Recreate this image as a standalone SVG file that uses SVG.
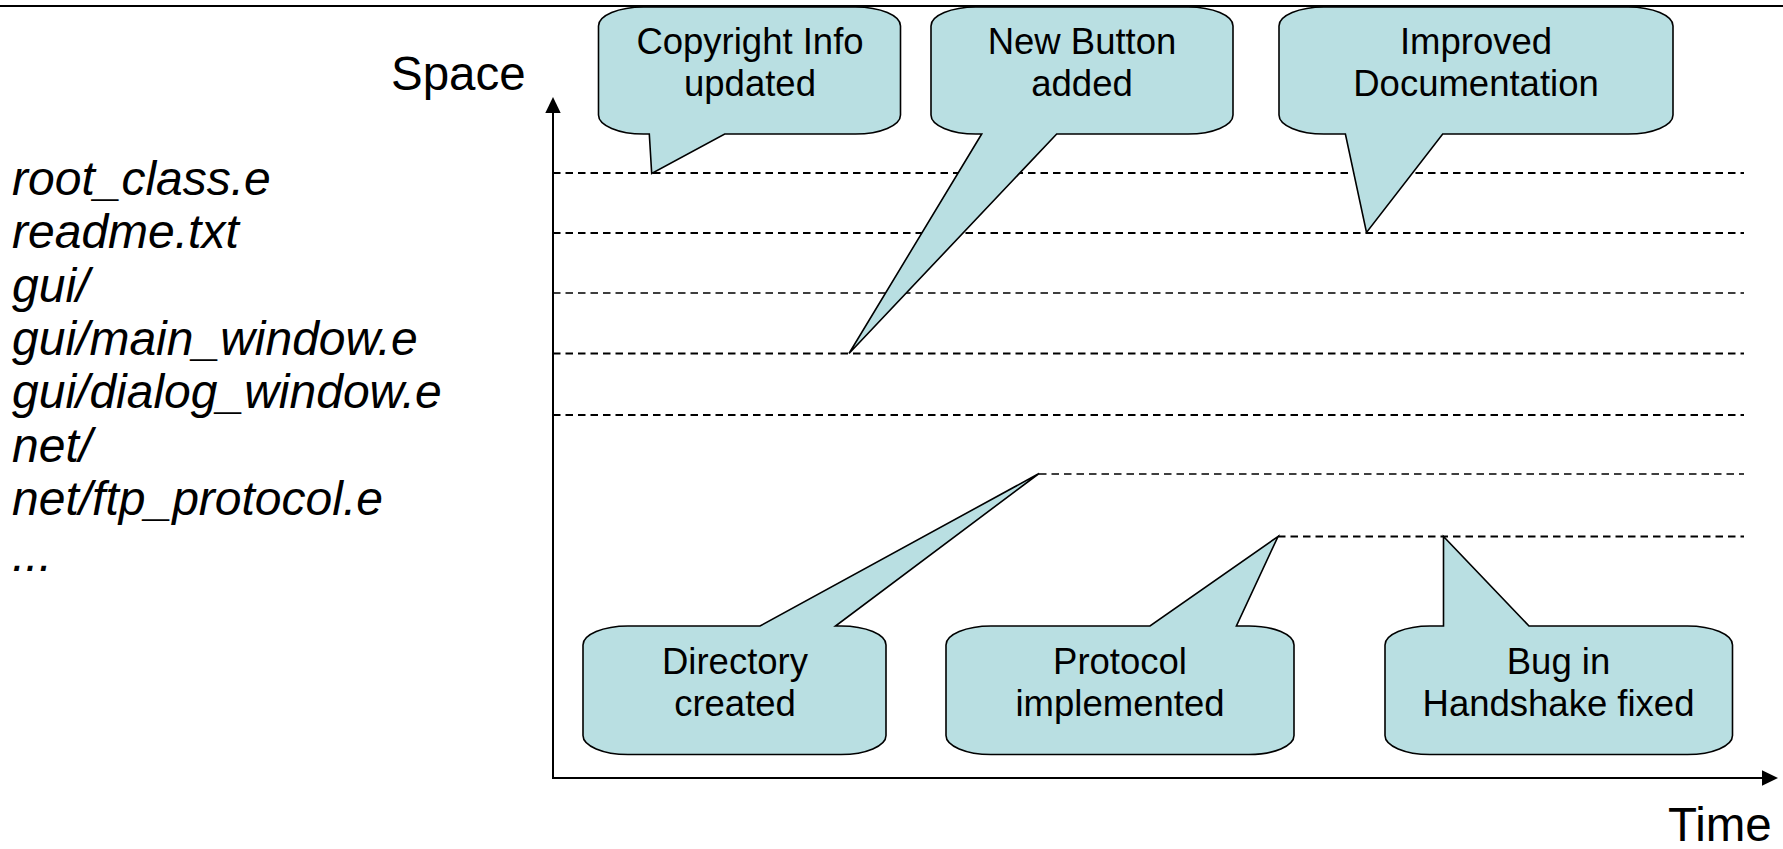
<svg xmlns="http://www.w3.org/2000/svg" width="1783" height="849" viewBox="0 0 1783 849">
  <defs>
    <marker id="arrow" viewBox="0 0 16 16" refX="0" refY="8" markerWidth="16" markerHeight="16" markerUnits="userSpaceOnUse" orient="auto">
      <path d="M0,0.3 L16,8 L0,15.7 Z" fill="#000"/>
    </marker>
  </defs>
  <style>
    .axis { stroke: #000; stroke-width: 2; fill: none; }
    .rule { stroke: #000; stroke-width: 2; }
    .lane { stroke: #000; stroke-width: 2.2; stroke-dasharray: 7.5 5; fill: none; }
    .lane.thin { stroke-width: 1.4; }
    .bubble { fill: #B9DFE2; stroke: #000; stroke-width: 1.6; stroke-linejoin: miter; }
    .label { font-family: "Liberation Sans", Arial, sans-serif; font-size: 36.5px; fill: #000; text-anchor: middle; }
    .axis-title { font-family: "Liberation Sans", Arial, sans-serif; font-size: 47.5px; fill: #000; }
    .file { font-family: "Liberation Sans", Arial, sans-serif; font-size: 48px; font-style: italic; fill: #000; }
  </style>

  <rect width="1783" height="849" fill="#fff"/>

  <!-- header rule -->
  <line class="rule" x1="0" y1="6" x2="1783" y2="6"/>

  <!-- file list (space axis) -->
  <g id="file-list">
    <text class="file" x="12" y="195">root_class.e</text>
    <text class="file" x="12" y="248.3">readme.txt</text>
    <text class="file" x="12" y="301.7">gui/</text>
    <text class="file" x="12" y="355">gui/main_window.e</text>
    <text class="file" x="12" y="408.3">gui/dialog_window.e</text>
    <text class="file" x="12" y="461.7">net/</text>
    <text class="file" x="12" y="515">net/ftp_protocol.e</text>
    <text class="file" x="12" y="571">...</text>
  </g>

  <text id="label-space" class="axis-title" x="391" y="90">Space</text>
  <text id="label-time" class="axis-title" x="1668" y="841">Time</text>

  <g id="connectors">
    <!-- file lifelines -->
    <line class="lane" x1="553" y1="173" x2="1744" y2="173"/>
    <line class="lane" x1="553" y1="233" x2="1744" y2="233"/>
    <line class="lane thin" x1="553" y1="293" x2="1744" y2="293"/>
    <line class="lane" x1="553" y1="353.5" x2="1744" y2="353.5"/>
    <line class="lane" x1="553" y1="415" x2="1744" y2="415"/>
    <line class="lane thin" x1="1039" y1="474" x2="1744" y2="474"/>
    <line class="lane" x1="1278" y1="536.5" x2="1744" y2="536.5"/>
    <!-- axes -->
    <line class="axis" x1="553" y1="778" x2="553" y2="113" marker-end="url(#arrow)"/>
    <line class="axis" x1="552" y1="778" x2="1762" y2="778" marker-end="url(#arrow)"/>
  </g>

  <g id="copyright-info">
    <path class="bubble" d="M643.5,7 H855.5 A45,19 0 0 1 900.5,26 V115 A45,19 0 0 1 855.5,134 H724.7 L651.7,173.5 L649.3,134 H643.5 A45,19 0 0 1 598.5,115 V26 A45,19 0 0 1 643.5,7 Z"/>
    <text class="label" x="750" y="54">Copyright Info</text>
    <text class="label" x="750" y="96">updated</text>
  </g>

  <g id="new-button">
    <path class="bubble" d="M976,7 H1188 A45,19 0 0 1 1233,26 V115 A45,19 0 0 1 1188,134 H1056.7 L849,353.5 L981.7,134 H976 A45,19 0 0 1 931,115 V26 A45,19 0 0 1 976,7 Z"/>
    <text class="label" x="1082" y="54">New Button</text>
    <text class="label" x="1082" y="96">added</text>
  </g>

  <g id="improved-documentation">
    <path class="bubble" d="M1324,7 H1628 A45,19 0 0 1 1673,26 V115 A45,19 0 0 1 1628,134 H1442.7 L1366.5,232.5 L1345.4,134 H1324 A45,19 0 0 1 1279,115 V26 A45,19 0 0 1 1324,7 Z"/>
    <text class="label" x="1476" y="54">Improved</text>
    <text class="label" x="1476" y="96">Documentation</text>
  </g>

  <g id="directory-created">
    <path class="bubble" d="M628,626 H760 L1039,473.5 L835.5,626 H841 A45,19 0 0 1 886,645 V735.5 A45,19 0 0 1 841,754.5 H628 A45,19 0 0 1 583,735.5 V645 A45,19 0 0 1 628,626 Z"/>
    <text class="label" x="735" y="674">Directory</text>
    <text class="label" x="735" y="715.5">created</text>
  </g>

  <g id="protocol-implemented">
    <path class="bubble" d="M991,626 H1150 L1278,536.5 L1236.4,626 H1249 A45,19 0 0 1 1294,645 V735.5 A45,19 0 0 1 1249,754.5 H991 A45,19 0 0 1 946,735.5 V645 A45,19 0 0 1 991,626 Z"/>
    <text class="label" x="1120" y="674">Protocol</text>
    <text class="label" x="1120" y="715.5">implemented</text>
  </g>

  <g id="handshake-fixed">
    <path class="bubble" d="M1430,626 H1443.5 V536.5 L1529,626 H1687.5 A45,19 0 0 1 1732.5,645 V735.5 A45,19 0 0 1 1687.5,754.5 H1430 A45,19 0 0 1 1385,735.5 V645 A45,19 0 0 1 1430,626 Z"/>
    <text class="label" x="1558.5" y="674">Bug in</text>
    <text class="label" x="1558.5" y="715.5">Handshake fixed</text>
  </g>
</svg>
